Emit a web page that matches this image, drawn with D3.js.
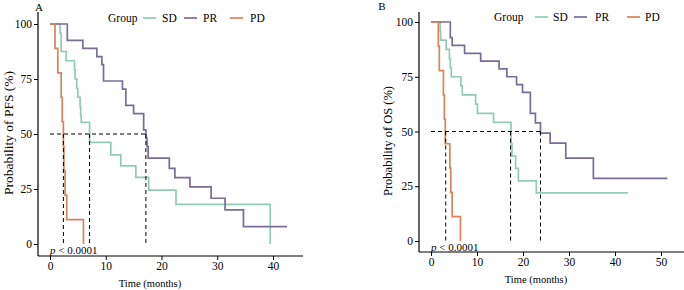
<!DOCTYPE html>
<html>
<head>
<meta charset="utf-8">
<script src="https://cdn.jsdelivr.net/npm/d3@7"></script>
<style>
  body { margin: 0; background: #fff; }
  svg { display: block; }
  text { font-family: "Liberation Serif", "Times New Roman", serif; fill: #000; }
</style>
</head>
<body>
<svg id="chart"></svg>
<script>
// ---- data ----
const groups = ['SD', 'PR', 'PD'];
const colors = { SD: '#92cbb1', PR: '#7b6c97', PD: '#d8835a' };

// PFS, panel A: [months, survival %]
const pfsSD = [[0,100],[1.8,95.8],[2.0,87.5],[2.9,83.3],[4.4,79.2],[4.5,75],[4.8,70.8],[5.0,66.7],[5.4,62.5],[5.5,58.3],[5.6,55.3],[7.1,46.2],[10.9,40.5],[12.7,35.5],[15.4,30.3],[17.7,24.5],[22.6,18],[39.5,0]];
const pfsPR = [[0,100],[3.1,92.6],[5.9,88.9],[8.4,85.2],[9.3,81.5],[9.6,74.1],[13.0,70.4],[13.6,63],[15.0,59.3],[16.8,51.9],[17.2,48.1],[17.4,44.4],[17.6,39],[21.4,34.4],[22.4,30.2],[25.1,26],[28.9,20.8],[31.4,15.5],[34.7,7.9],[42.5,7.9]];
const pfsPD = [[0,100],[0.9,88.9],[1.4,77.8],[2.0,66.7],[2.2,55.6],[2.4,44.4],[2.5,33.3],[2.7,22.2],[3.0,11.1],[6.0,0]];
const pfsMedians = [2.4, 7.1, 17.2];

// OS, panel B
const osSD = [[0,100],[2.0,95.8],[2.1,91.7],[3.3,87.5],[4.0,83.3],[4.2,79.2],[4.4,75],[6.5,70.8],[6.8,66.7],[9.7,62.5],[10.1,58.3],[13.6,54.2],[17.4,44.5],[17.6,38.8],[18.4,33.2],[19.0,27.5],[22.9,22],[42.8,22]];
const osPR = [[0,100],[4.2,92.9],[4.6,89.3],[7.3,85.7],[10.8,82.1],[14.8,78.6],[16.5,75],[18.6,71.4],[19.9,67.9],[21.6,58.3],[22.7,53.9],[23.8,49.3],[25.9,44.7],[29.3,37.8],[35.3,28.6],[51.4,28.6]];
const osPD = [[0,100],[1.6,88.9],[1.8,77.8],[2.7,66.7],[2.9,55.6],[3.1,44.4],[4.1,33.3],[4.3,22.2],[4.6,11.1],[6.4,0]];
const osMedians = [3.2, 17.3, 23.8];

const yTicks = [0, 25, 50, 75, 100];
const xTicksA = [0, 10, 20, 30, 40];
const xTicksB = [0, 10, 20, 30, 40, 50];

// ---- layout ----
const width = 684, height = 290;
const svg = d3.select('#chart').attr('width', width).attr('height', height);

const panels = [
    {
        tag: 'A', tagX: 39, tagY: 11,
        curves: { SD: pfsSD, PR: pfsPR, PD: pfsPD },
        medians: pfsMedians,
        xTicks: xTicksA,
        x: d3.scaleLinear().domain([0, 40]).range([50, 273]),
        y: d3.scaleLinear().domain([0, 100]).range([244, 24]),
        axisX: [38, 303], axisY: [12, 256],
        ylabel: 'Probability of PFS (%)', ylabelX: 8, ylabelY: 133, ylabelSize: 13.5,
        titleX: 150, titleY: 287,
        legend: { group: 108, y: 18, items: { SD: [143, 162], PR: [184, 203], PD: [230, 250] } }
    },
    {
        tag: 'B', tagX: 382, tagY: 10,
        curves: { SD: osSD, PR: osPR, PD: osPD },
        medians: osMedians,
        xTicks: xTicksB,
        x: d3.scaleLinear().domain([0, 50]).range([431, 661]),
        y: d3.scaleLinear().domain([0, 100]).range([241, 22]),
        axisX: [419, 684], axisY: [12, 252],
        ylabel: 'Probability of OS (%)', ylabelX: 388, ylabelY: 141, ylabelSize: 12.5,
        titleX: 536, titleY: 283,
        legend: { group: 494, y: 17, items: { SD: [535, 553], PR: [574, 595], PD: [627, 645] } }
    }
];

panels.forEach(p => {
    const g = svg.append('g');
    const x = p.x, y = p.y;

    // panel tag
    g.append('text').attr('x', p.tagX).attr('y', p.tagY)
        .attr('text-anchor', 'middle').attr('font-size', 11).text(p.tag);

    // survival curves
    const line = d3.line()
        .x(d => x(d[0]))
        .y(d => y(d[1]))
        .curve(d3.curveStepAfter);

    groups.forEach(k => {
        g.append('path')
            .datum(p.curves[k])
            .attr('d', line)
            .attr('fill', 'none')
            .attr('stroke', colors[k])
            .attr('stroke-width', 1.7);
    });

    // median lines
    const dash = '4,3';
    g.append('line')
        .attr('x1', x(0)).attr('x2', x(d3.max(p.medians)))
        .attr('y1', y(50)).attr('y2', y(50))
        .attr('stroke', '#000').attr('stroke-width', 1).attr('stroke-dasharray', dash);
    p.medians.forEach(m => {
        g.append('line')
            .attr('x1', x(m)).attr('x2', x(m))
            .attr('y1', y(50)).attr('y2', y(0))
            .attr('stroke', '#000').attr('stroke-width', 1).attr('stroke-dasharray', dash);
    });

    // axes
    const xAxis = g.append('g')
        .attr('transform', `translate(0,${p.axisY[1]})`)
        .call(d3.axisBottom(x).tickValues(p.xTicks).tickSize(4).tickPadding(2));
    const yAxis = g.append('g')
        .attr('transform', `translate(${p.axisX[0]},0)`)
        .call(d3.axisLeft(y).tickValues(yTicks).tickSize(4).tickPadding(2));
    [xAxis, yAxis].forEach(a => {
        a.select('.domain').remove();
        a.selectAll('line').attr('stroke', '#000').attr('stroke-width', 1);
        a.selectAll('text').attr('font-family', '"Liberation Serif", serif')
            .attr('font-size', 11.5).attr('fill', '#000');
    });
    g.append('line')
        .attr('x1', p.axisX[0]).attr('x2', p.axisX[1])
        .attr('y1', p.axisY[1]).attr('y2', p.axisY[1])
        .attr('stroke', '#000').attr('stroke-width', 1.2);
    g.append('line')
        .attr('x1', p.axisX[0]).attr('x2', p.axisX[0])
        .attr('y1', p.axisY[0]).attr('y2', p.axisY[1])
        .attr('stroke', '#000').attr('stroke-width', 1.2);

    // p value
    const pt = g.append('text')
        .attr('x', x(0)).attr('y', y(0) + 10)
        .attr('font-size', 11);
    pt.append('tspan').attr('font-style', 'italic').text('p');
    pt.append('tspan').text(' < 0.0001');

    // axis titles
    g.append('text')
        .attr('x', p.titleX).attr('y', p.titleY)
        .attr('text-anchor', 'middle').attr('font-size', 10.5)
        .text('Time (months)');
    g.append('text')
        .attr('transform', `translate(${p.ylabelX},${p.ylabelY}) rotate(-90)`)
        .attr('text-anchor', 'middle').attr('dy', '0.35em')
        .attr('font-size', p.ylabelSize)
        .text(p.ylabel);

    // legend
    const L = p.legend;
    g.append('text').attr('x', L.group).attr('y', L.y).attr('dy', '0.35em')
        .attr('font-size', 11.5).text('Group');
    groups.forEach(k => {
        const [lx, tx] = L.items[k];
        g.append('line')
            .attr('x1', lx).attr('x2', lx + 13)
            .attr('y1', L.y).attr('y2', L.y)
            .attr('stroke', colors[k]).attr('stroke-width', 1.7);
        g.append('text').attr('x', tx).attr('y', L.y).attr('dy', '0.35em')
            .attr('font-size', 11.5).text(k);
    });
});
</script>
</body>
</html>
